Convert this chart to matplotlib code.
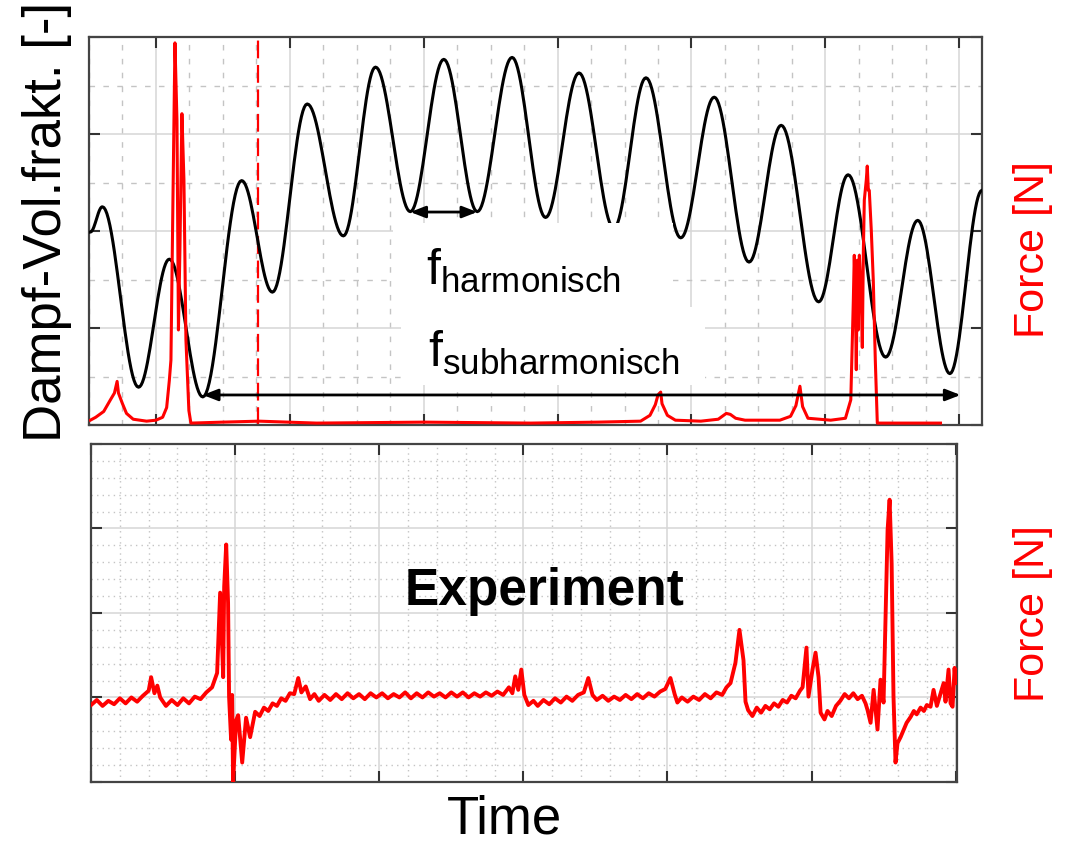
import matplotlib.pyplot as plt
from matplotlib.patches import Rectangle
from matplotlib.ticker import MultipleLocator, NullFormatter
import numpy as np

plt.rcParams['font.family'] = ['Liberation Sans', 'DejaVu Sans']
plt.rcParams['mathtext.fontset'] = 'custom'
plt.rcParams['mathtext.rm'] = 'Liberation Sans'
plt.rcParams['mathtext.it'] = 'Liberation Sans'

# --- data (arbitrary units) ---
# top: vapour volume fraction, turning points of the oscillation
void_t = [-0.49, -0.40, -0.13, 0.10, 0.35, 0.64, 0.87, 1.13, 1.40, 1.64,
          1.90, 2.15, 2.40, 2.66, 2.91, 3.16, 3.42, 3.66, 3.92, 4.17,
          4.43, 4.67, 4.95, 5.17, 5.45, 5.69, 5.93, 6.17]
void_v = [1.99, 2.25, 0.39, 1.71, 0.29, 2.52, 1.37, 3.31, 1.95, 3.69,
          2.20, 3.77, 2.20, 3.79, 2.14, 3.63, 2.03, 3.58, 1.93, 3.38,
          1.68, 3.09, 1.27, 2.58, 0.70, 2.11, 0.53, 2.42]

# top: simulated force
force_sim_t = [-0.49, -0.45, -0.39, -0.34, -0.31, -0.29, -0.28, -0.25, -0.22, -0.17,
               -0.07, 0.0, 0.05, 0.08, 0.10, 0.112, 0.127, 0.142, 0.157, 0.168,
               0.179, 0.194, 0.209, 0.224, 0.246, 0.261, 0.5, 0.77, 1.2, 2.0,
               2.8, 3.3, 3.62, 3.69, 3.73, 3.75, 3.77, 3.78, 3.82, 3.88,
               4.07, 4.20, 4.26, 4.29, 4.33, 4.40, 4.66, 4.74, 4.78, 4.81,
               4.83, 4.87, 5.04, 5.15, 5.19, 5.209, 5.216, 5.224, 5.231, 5.239,
               5.246, 5.254, 5.269, 5.276, 5.284, 5.291, 5.306, 5.313, 5.321, 5.328,
               5.343, 5.358, 5.373, 5.388, 5.86]
force_sim_v = [0.05, 0.08, 0.14, 0.26, 0.33, 0.45, 0.33, 0.22, 0.12, 0.06,
               0.04, 0.05, 0.08, 0.18, 0.46, 0.67, 2.32, 3.94, 3.14, 0.98,
               1.80, 3.21, 2.53, 0.88, 0.15, 0.02, 0.03, 0.04, 0.02, 0.03,
               0.02, 0.03, 0.04, 0.10, 0.21, 0.31, 0.34, 0.22, 0.10, 0.05,
               0.04, 0.06, 0.12, 0.11, 0.07, 0.05, 0.05, 0.09, 0.20, 0.40,
               0.19, 0.07, 0.05, 0.07, 0.26, 1.29, 1.75, 1.29, 0.57, 1.70,
               0.98, 1.75, 1.29, 0.80, 1.80, 2.32, 2.53, 2.67, 2.42, 2.42,
               2.01, 1.49, 0.67, 0.02, 0.02]
marker_t = 0.765

# bottom: measured force
force_exp_t = [0.00, 0.04, 0.08, 0.12, 0.16, 0.20, 0.24, 0.28, 0.32, 0.36,
               0.40, 0.417, 0.44, 0.46, 0.48, 0.52, 0.56, 0.60, 0.64, 0.68,
               0.72, 0.76, 0.80, 0.84, 0.875, 0.896, 0.910, 0.917, 0.924, 0.938,
               0.951, 0.958, 0.972, 0.979, 0.986, 1.007, 1.021, 1.049, 1.076, 1.104,
               1.139, 1.17, 1.20, 1.23, 1.26, 1.29, 1.32, 1.35, 1.38, 1.41,
               1.438, 1.46, 1.49, 1.52, 1.55, 1.58, 1.62, 1.66, 1.70, 1.74,
               1.78, 1.82, 1.86, 1.90, 1.94, 1.98, 2.02, 2.06, 2.10, 2.14,
               2.18, 2.22, 2.26, 2.30, 2.34, 2.38, 2.42, 2.46, 2.50, 2.54,
               2.58, 2.62, 2.66, 2.70, 2.74, 2.78, 2.82, 2.86, 2.90, 2.924,
               2.944, 2.965, 2.986, 3.007, 3.035, 3.07, 3.10, 3.14, 3.18, 3.22,
               3.26, 3.30, 3.34, 3.38, 3.42, 3.451, 3.48, 3.51, 3.55, 3.59,
               3.63, 3.67, 3.71, 3.75, 3.79, 3.83, 3.87, 3.91, 3.95, 3.985,
               4.021, 4.05, 4.069, 4.10, 4.14, 4.18, 4.22, 4.26, 4.30, 4.34,
               4.38, 4.41, 4.438, 4.472, 4.500, 4.528, 4.542, 4.56, 4.590, 4.62,
               4.65, 4.68, 4.71, 4.74, 4.77, 4.80, 4.83, 4.86, 4.89, 4.92,
               4.938, 4.965, 4.979, 5.007, 5.028, 5.049, 5.063, 5.09, 5.111, 5.14,
               5.17, 5.20, 5.23, 5.26, 5.29, 5.32, 5.35, 5.375, 5.389, 5.410,
               5.431, 5.458, 5.479, 5.500, 5.514, 5.528, 5.542, 5.556, 5.569, 5.583,
               5.597, 5.618, 5.64, 5.66, 5.688, 5.71, 5.73, 5.757, 5.78, 5.80,
               5.826, 5.847, 5.87, 5.896, 5.917, 5.93, 5.951, 5.965, 5.979, 5.993,
               6.0]
force_exp_v = [0.91, 0.97, 0.90, 0.96, 0.92, 0.99, 0.93, 1.00, 0.95, 1.02,
               1.08, 1.24, 1.05, 1.14, 1.00, 0.90, 0.97, 0.91, 0.99, 0.93,
               1.01, 0.98, 1.06, 1.12, 1.29, 2.24, 1.60, 1.24, 2.31, 2.81,
               2.12, 1.01, 0.50, 1.03, 0.00, 0.73, 0.79, 0.23, 0.76, 0.53,
               0.83, 0.78, 0.88, 0.84, 0.93, 0.90, 0.99, 0.96, 1.05, 1.04,
               1.23, 1.06, 1.13, 0.98, 1.04, 0.96, 1.03, 0.97, 1.04, 0.98,
               1.05, 0.99, 1.04, 0.98, 1.05, 1.00, 1.05, 0.99, 1.04, 1.00,
               1.06, 0.99, 1.05, 1.00, 1.06, 1.01, 1.05, 1.00, 1.06, 1.01,
               1.06, 1.00, 1.05, 1.01, 1.06, 1.02, 1.07, 1.03, 1.12, 1.05,
               1.25, 1.09, 1.33, 1.03, 0.91, 0.96, 0.90, 0.97, 0.92, 0.99,
               0.94, 1.01, 0.96, 1.03, 1.06, 1.23, 1.03, 0.97, 1.02, 0.96,
               1.01, 0.97, 1.03, 0.98, 1.04, 0.99, 1.05, 1.01, 1.07, 1.10,
               1.23, 1.04, 0.94, 1.00, 0.95, 1.01, 0.97, 1.04, 0.99, 1.06,
               1.03, 1.12, 1.17, 1.41, 1.80, 1.44, 0.95, 0.85, 0.78, 0.88,
               0.82, 0.90, 0.86, 0.93, 0.89, 0.97, 0.94, 1.02, 0.99, 1.08,
               1.12, 1.59, 1.01, 1.33, 1.53, 1.24, 0.82, 0.74, 0.84, 0.78,
               0.90, 0.96, 1.04, 0.99, 1.05, 0.98, 1.02, 0.93, 0.85, 0.70,
               1.09, 0.62, 1.21, 0.94, 1.95, 2.98, 3.34, 2.59, 1.01, 0.23,
               0.46, 0.53, 0.62, 0.70, 0.77, 0.84, 0.80, 0.88, 0.84, 0.91,
               0.89, 1.09, 0.90, 1.05, 1.17, 0.95, 1.33, 0.93, 0.89, 1.35,
               1.17]

# smooth the oscillation between its turning points (half-cosine per segment)
xs, ys = [], []
for i in range(len(void_t) - 1):
    s = np.linspace(0, 1, 25)
    xs.append(void_t[i] + (void_t[i + 1] - void_t[i]) * s)
    ys.append(void_v[i] + (void_v[i + 1] - void_v[i]) * (1 - np.cos(np.pi * s)) / 2)
void_x = np.concatenate(xs)
void_y = np.concatenate(ys)

fig = plt.figure(figsize=(10.71, 8.44), dpi=100)
ax1 = fig.add_axes([0.0831, 0.4964, 0.8338, 0.4597])
ax2 = fig.add_axes([0.0850, 0.0735, 0.8086, 0.4005])


def style(ax, xminor, yminor, minor_ls):
    ax.xaxis.set_major_locator(MultipleLocator(1))
    ax.yaxis.set_major_locator(MultipleLocator(1))
    ax.xaxis.set_minor_locator(MultipleLocator(xminor))
    ax.yaxis.set_minor_locator(MultipleLocator(yminor))
    ax.xaxis.set_major_formatter(NullFormatter())
    ax.yaxis.set_major_formatter(NullFormatter())
    ax.grid(which='major', color='#d6d6d6', lw=1.1, ls='-')
    ax.grid(which='minor', color='#c4c4c4', lw=1.0, ls=minor_ls)
    ax.tick_params(which='major', direction='in', length=8, width=1.5,
                   color='#333333', top=True, right=True)
    ax.tick_params(which='minor', length=0)
    for sp in ax.spines.values():
        sp.set_color('#444444')
        sp.set_linewidth(1.6)
    ax.set_axisbelow(True)


# top panel
style(ax1, 0.25, 0.5, (0, (4, 6)))
ax1.set_xlim(-0.5, 6.17)
ax1.set_ylim(0, 4)
ax1.plot(void_x, void_y, color='black', lw=2.2, zorder=3)
ax1.plot(force_sim_t, force_sim_v, color='red', lw=2.2, zorder=4)
ax1.axvline(marker_t, color='red', lw=1.6, ls=(0, (8, 3)), zorder=2)

ax1.add_patch(Rectangle((1.77, 1.216), 2.09, 0.866, facecolor='white',
                        edgecolor='none', zorder=5))
ax1.add_patch(Rectangle((1.83, 0.412), 2.27, 0.804, facecolor='white',
                        edgecolor='none', zorder=5))

arrow = dict(arrowstyle='<|-|>,head_length=0.9,head_width=0.35', color='black',
             lw=2, shrinkA=0, shrinkB=0)
ax1.annotate('', xy=(1.90, 2.196), xytext=(2.40, 2.196), arrowprops=arrow, zorder=6)
ax1.annotate('', xy=(0.35, 0.31), xytext=(6.01, 0.31), arrowprops=arrow, zorder=6)

ax1.text(2.015, 1.443, r'$\mathrm{f}_{\mathrm{harmonisch}}$', fontsize=36,
         ha='left', va='baseline', zorder=7)
ax1.text(2.03, 0.598, r'$\mathrm{f}_{\mathrm{subharmonisch}}$', fontsize=36,
         ha='left', va='baseline', zorder=7)

# bottom panel
style(ax2, 0.2, 0.2, (0, (1, 3)))
ax2.set_xlim(0, 6.01)
ax2.set_ylim(0, 4)
ax2.plot(force_exp_t, force_exp_v, color='red', lw=2.8, zorder=3)
ax2.text(3.15, 2.25, 'Experiment', fontsize=37, fontweight='bold',
         ha='center', va='center')

fig.text(47 / 1071, 1 - 222 / 844, 'Dampf-Vol.frakt. [-]', fontsize=38,
         rotation=90, ha='center', va='center')
fig.text(1033 / 1071, 1 - 250 / 844, 'Force [N]', fontsize=31, color='red',
         rotation=90, ha='center', va='center')
fig.text(1033 / 1071, 1 - 614 / 844, 'Force [N]', fontsize=31, color='red',
         rotation=90, ha='center', va='center')
fig.text(505 / 1071, 1 - 820 / 844, 'Time', fontsize=38, ha='center', va='center')

fig.savefig('out.png', dpi=100)
